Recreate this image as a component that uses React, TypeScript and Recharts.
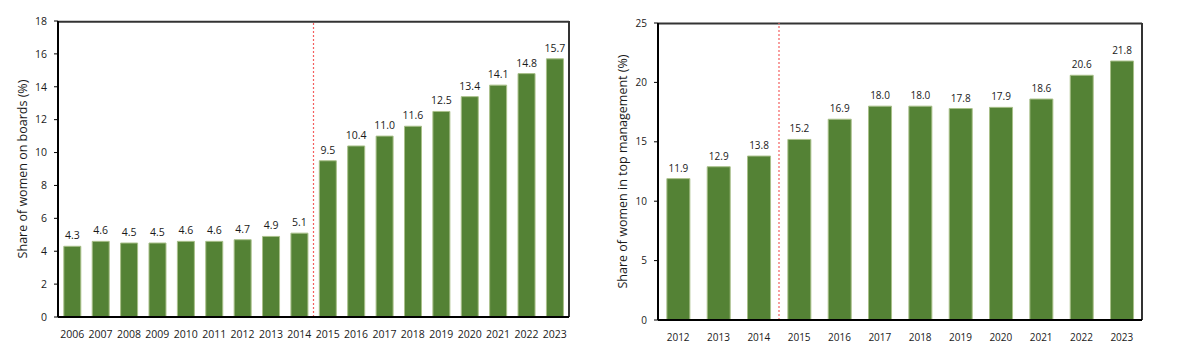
import { Bar, BarChart, LabelList, ReferenceLine, XAxis, YAxis } from 'recharts'

const boardYears = ['2006', '2007', '2008', '2009', '2010', '2011', '2012', '2013', '2014', '2015', '2016', '2017', '2018', '2019', '2020', '2021', '2022', '2023']
const boardShares = [4.3, 4.6, 4.5, 4.5, 4.6, 4.6, 4.7, 4.9, 5.1, 9.5, 10.4, 11.0, 11.6, 12.5, 13.4, 14.1, 14.8, 15.7]
const boardTicks = [0, 2, 4, 6, 8, 10, 12, 14, 16, 18]

const mgmtYears = ['2012', '2013', '2014', '2015', '2016', '2017', '2018', '2019', '2020', '2021', '2022', '2023']
const mgmtShares = [11.9, 12.9, 13.8, 15.2, 16.9, 18.0, 18.0, 17.8, 17.9, 18.6, 20.6, 21.8]
const mgmtTicks = [0, 5, 10, 15, 20, 25]

const splitYear = '2015'

const font = '"Open Sans", sans-serif'
const green = '#548235'
const ink = '#1a1a1a'
const frameColor = '#333'
const H = 362

function ShareChart({
  years,
  values,
  ticks,
  label,
  width,
  margin,
  yWidth,
  labelX,
  fontSize,
  gap
}: {
  years: string[]
  values: number[]
  ticks: number[]
  label: string
  width: number
  margin: { top: number; right: number; bottom: number; left: number }
  yWidth: number
  labelX: number
  fontSize: number
  gap: string
}) {
  const data = years.map((year, i) => ({ year, value: values[i] }))
  const top = ticks[ticks.length - 1]
  const first = years[0]
  const last = years[years.length - 1]
  return (
    <BarChart width={width} height={H} data={data} margin={margin} barCategoryGap={gap}>
      <XAxis
        dataKey="year"
        interval={0}
        height={30}
        axisLine={{ stroke: '#000', strokeWidth: 2 }}
        tickLine={false}
        tickMargin={8}
        tick={{ fontSize, fill: ink, fontFamily: font }}
      />
      <YAxis
        domain={[0, top]}
        ticks={ticks}
        interval={0}
        width={yWidth}
        tickSize={4}
        tickMargin={7}
        axisLine={{ stroke: '#000', strokeWidth: 2 }}
        tickLine={{ stroke: '#000' }}
        tick={{ fontSize, fill: ink, fontFamily: font }}
        label={{
          value: label,
          angle: -90,
          position: 'insideLeft',
          offset: labelX,
          style: { textAnchor: 'middle', fontSize: 12.5, fill: ink, fontFamily: font }
        }}
      />
      {/* top and right edges of the plot box */}
      <ReferenceLine y={top - 0.05} stroke={frameColor} strokeWidth={2} />
      <ReferenceLine x={last} position="end" stroke={frameColor} strokeWidth={2} />
      <ReferenceLine x={first} position="start" stroke="#000" strokeWidth={2} />
      <ReferenceLine
        x={splitYear}
        position="start"
        stroke="#f45f5f"
        strokeWidth={1.2}
        strokeDasharray="2 2"
      />
      <Bar dataKey="value" fill={green} stroke="#a9c08a" strokeWidth={1} isAnimationActive={false}>
        <LabelList
          dataKey="value"
          position="top"
          offset={7}
          formatter={(v: number) => v.toFixed(1)}
          style={{ fontSize, fill: ink, fontFamily: font }}
        />
      </Bar>
    </BarChart>
  )
}

export default function App() {
  return (
    <div style={{ position: 'absolute', left: 0, top: 0, width: 1186, height: H, background: '#fff', display: 'flex' }}>
      <ShareChart
        years={boardYears}
        values={boardShares}
        ticks={boardTicks}
        label="Share of women on boards (%)"
        width={590}
        margin={{ top: 21, right: 21, bottom: 15, left: 0 }}
        yWidth={58}
        labelX={23}
        fontSize={10.5}
        gap="20.5%"
      />
      <ShareChart
        years={mgmtYears}
        values={mgmtShares}
        ticks={mgmtTicks}
        label="Share of women in top management (%)"
        width={596}
        margin={{ top: 23, right: 44, bottom: 12, left: 0 }}
        yWidth={68}
        labelX={33}
        fontSize={10}
        gap="22%"
      />
    </div>
  )
}
